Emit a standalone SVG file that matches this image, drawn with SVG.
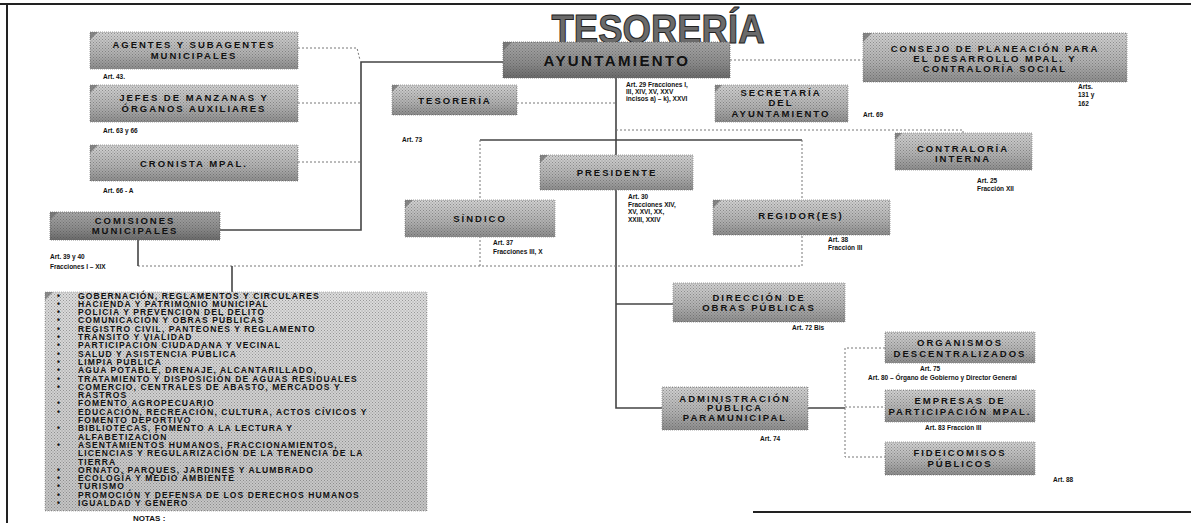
<svg xmlns="http://www.w3.org/2000/svg" width="1191" height="523" viewBox="0 0 1191 523">
<style>
.box{fill:url(#g1);stroke:#8a8a8a;stroke-width:0.8;stroke-dasharray:1 1}
.dk{fill:url(#g2);stroke:#6a6a6a;stroke-width:0.8;stroke-dasharray:1 1}
.lb{fill:url(#g3);stroke:#aaa;stroke-width:0.8;stroke-dasharray:1 1}
.tex{fill:url(#dots)}
.fold{fill:#6a6a6a;opacity:0.7}
.t{font-family:"Liberation Sans",Arial,sans-serif;font-weight:bold;font-size:9.5px;letter-spacing:2px;text-anchor:middle;fill:#111}
.a{font-family:"Liberation Sans",Arial,sans-serif;font-weight:bold;font-size:6.5px;fill:#111}
.li{font-family:"Liberation Sans",Arial,sans-serif;font-weight:bold;font-size:8.5px;letter-spacing:1.1px;fill:#111}
.solid{stroke:#444;stroke-width:1.6;fill:none}
.dot{stroke:#777;stroke-width:1;stroke-dasharray:2 2;fill:none}
.border{stroke:#222;stroke-width:2;fill:none}
</style>
<defs>
<linearGradient id="g1" x1="0" y1="0" x2="0" y2="1"><stop offset="0" stop-color="#d2d2d2"/><stop offset="0.6" stop-color="#b0b0b0"/><stop offset="1" stop-color="#8c8c8c"/></linearGradient>
<linearGradient id="g2" x1="0" y1="0" x2="0" y2="1"><stop offset="0" stop-color="#a8a8a8"/><stop offset="0.6" stop-color="#8a8a8a"/><stop offset="1" stop-color="#6a6a6a"/></linearGradient>
<linearGradient id="g3" x1="0" y1="0" x2="0" y2="1"><stop offset="0" stop-color="#dcdcdc"/><stop offset="1" stop-color="#c4c4c4"/></linearGradient>
<pattern id="dots" width="3" height="3" patternUnits="userSpaceOnUse"><rect x="0" y="0" width="1" height="1" fill="#444" opacity="0.45"/><rect x="1.5" y="1.5" width="1" height="1" fill="#444" opacity="0.45"/></pattern>
</defs>
<rect width="1191" height="523" fill="#fff"/>
<g id="page-border">
<path class="border" d="M0,4 H1191"/>
<path class="border" d="M7,4 V523"/>
<path class="border" d="M753,512 H1191" stroke-width="1.5"/>
</g>
<text x="658" y="43" font-family="Liberation Sans,Arial,sans-serif" font-weight="bold" font-size="40" textLength="213" lengthAdjust="spacingAndGlyphs" text-anchor="middle" fill="#6a6a6a" stroke="#222" stroke-width="1">TESORERÍA</text>
<g id="connectors">
<path class="dot" d="M298,48 H357 L360,60"/>
<path class="dot" d="M298,103 H360"/>
<path class="dot" d="M298,162 H360"/>
<path class="solid" d="M220,230 H361 V62 H503"/>
<path class="solid" d="M616,78 V408 H662"/>
<path class="solid" d="M616,304 H673"/>
<path class="dot" d="M517,103 H616"/>
<path class="dot" d="M730,60 H863"/>
<path class="dot" d="M616,130 H963 V133"/>
<path class="solid" d="M480,140 H802" stroke-width="1.2"/>
<path class="dot" d="M480,140 V266"/>
<path class="dot" d="M802,140 V266"/>
<path class="dot" d="M138,266 H802"/>
<path class="solid" d="M138,240 V266" stroke-width="1.2"/>
<path class="solid" d="M232,266 V292" stroke-width="1.2"/>
<path class="solid" d="M808,408 H845" stroke-width="1.2"/>
<path class="dot" d="M885,348 H845 V457 H885"/>
<path class="dot" d="M845,407 H885"/>
</g>
<g id="agentes">
<rect class="box" x="90" y="32" width="208" height="37"/><rect class="tex" x="90" y="32" width="208" height="37"/><path class="fold" d="M90,32 h8 l-8,8 z"/>
<text class="t" x="194" y="48">AGENTES Y SUBAGENTES</text><text class="t" x="194" y="59">MUNICIPALES</text>
<text class="a" x="103" y="79">Art. 43.</text>
</g>
<g id="jefes">
<rect class="box" x="90" y="85" width="208" height="37"/><rect class="tex" x="90" y="85" width="208" height="37"/><path class="fold" d="M90,85 h8 l-8,8 z"/>
<text class="t" x="194" y="101">JEFES DE MANZANAS Y</text><text class="t" x="194" y="112">ÓRGANOS AUXILIARES</text>
<text class="a" x="103" y="133">Art. 63 y 66</text>
</g>
<g id="cronista">
<rect class="box" x="90" y="145" width="208" height="36"/><rect class="tex" x="90" y="145" width="208" height="36"/><path class="fold" d="M90,145 h8 l-8,8 z"/>
<text class="t" x="194" y="167">CRONISTA MPAL.</text>
<text class="a" x="103" y="193">Art. 66 - A</text>
</g>
<g id="ayuntamiento">
<rect class="dk" x="503" y="42" width="227" height="36"/><rect class="tex" x="503" y="42" width="227" height="36"/><path class="fold" d="M503,42 h9 l-9,9 z"/>
<text class="t" x="617" y="66" style="font-size:15px;letter-spacing:2.4px">AYUNTAMIENTO</text>
<text class="a" x="626" y="87">Art. 29 Fracciones I,</text>
<text class="a" x="626" y="94">III, XIV, XV, XXV</text>
<text class="a" x="626" y="101">incisos a) – k), XXVI</text>
</g>
<g id="tesoreria">
<rect class="box" x="392" y="85" width="125" height="30"/><rect class="tex" x="392" y="85" width="125" height="30"/><path class="fold" d="M392,85 h7 l-7,7 z"/>
<text class="t" x="455" y="104">TESORERÍA</text>
<text class="a" x="402" y="142">Art. 73</text>
</g>
<g id="secretaria">
<rect class="box" x="715" y="85" width="133" height="37"/><rect class="tex" x="715" y="85" width="133" height="37"/><path class="fold" d="M715,85 h7 l-7,7 z"/>
<text class="t" x="781" y="96">SECRETARÍA</text><text class="t" x="781" y="106">DEL</text><text class="t" x="781" y="117">AYUNTAMIENTO</text>
<text class="a" x="863" y="117">Art. 69</text>
</g>
<g id="consejo">
<rect class="box" x="863" y="33" width="264" height="49"/><rect class="tex" x="863" y="33" width="264" height="49"/><path class="fold" d="M863,33 h9 l-9,9 z"/>
<text class="t" x="995" y="52">CONSEJO DE PLANEACIÓN PARA</text><text class="t" x="995" y="62">EL DESARROLLO MPAL. Y</text><text class="t" x="995" y="72">CONTRALORÍA SOCIAL</text>
<text class="a" x="1078" y="89">Arts.</text><text class="a" x="1078" y="97">131 y</text><text class="a" x="1078" y="106">162</text>
</g>
<g id="contraloria">
<rect class="box" x="895" y="133" width="137" height="37"/><rect class="tex" x="895" y="133" width="137" height="37"/><path class="fold" d="M895,133 h7 l-7,7 z"/>
<text class="t" x="963" y="152">CONTRALORÍA</text><text class="t" x="963" y="162">INTERNA</text>
<text class="a" x="977" y="183">Art. 25</text><text class="a" x="977" y="191">Fracción XII</text>
</g>
<g id="presidente">
<rect class="box" x="540" y="155" width="153" height="35"/><rect class="tex" x="540" y="155" width="153" height="35"/><path class="fold" d="M540,155 h8 l-8,8 z"/>
<text class="t" x="617" y="176">PRESIDENTE</text>
<text class="a" x="628" y="199">Art. 30</text><text class="a" x="628" y="207">Fracciones XIV,</text><text class="a" x="628" y="214">XV, XVI, XX,</text><text class="a" x="628" y="222">XXIII, XXIV</text>
</g>
<g id="sindico">
<rect class="box" x="405" y="200" width="150" height="37"/><rect class="tex" x="405" y="200" width="150" height="37"/><path class="fold" d="M405,200 h8 l-8,8 z"/>
<text class="t" x="480" y="222">SÍNDICO</text>
<text class="a" x="493" y="245">Art. 37</text><text class="a" x="493" y="254">Fracciones III, X</text>
</g>
<g id="regidores">
<rect class="box" x="713" y="200" width="177" height="35"/><rect class="tex" x="713" y="200" width="177" height="35"/><path class="fold" d="M713,200 h8 l-8,8 z"/>
<text class="t" x="801" y="219">REGIDOR(ES)</text>
<text class="a" x="828" y="242">Art. 38</text><text class="a" x="828" y="250">Fracción III</text>
</g>
<g id="direccion-obras">
<rect class="box" x="673" y="283" width="172" height="39"/><rect class="tex" x="673" y="283" width="172" height="39"/>
<text class="t" x="759" y="301">DIRECCIÓN DE</text><text class="t" x="759" y="311">OBRAS PÚBLICAS</text>
<text class="a" x="792" y="330">Art. 72 Bis</text>
</g>
<g id="administracion">
<rect class="box" x="662" y="387" width="146" height="43"/><rect class="tex" x="662" y="387" width="146" height="43"/>
<text class="t" x="735" y="402">ADMINISTRACIÓN</text><text class="t" x="735" y="411">PÚBLICA</text><text class="t" x="735" y="421">PARAMUNICIPAL</text>
<text class="a" x="760" y="441">Art. 74</text>
</g>
<g id="organismos">
<rect class="box" x="885" y="332" width="150" height="31"/><rect class="tex" x="885" y="332" width="150" height="31"/>
<text class="t" x="960" y="346">ORGANISMOS</text><text class="t" x="960" y="357">DESCENTRALIZADOS</text>
<text class="a" x="920" y="371">Art. 75</text>
<text class="a" x="868" y="380">Art. 80 – Órgano de Gobierno y Director General</text>
</g>
<g id="empresas">
<rect class="box" x="885" y="390" width="150" height="32"/><rect class="tex" x="885" y="390" width="150" height="32"/>
<text class="t" x="960" y="404">EMPRESAS DE</text><text class="t" x="960" y="415">PARTICIPACIÓN MPAL.</text>
<text class="a" x="925" y="430">Art. 83 Fracción III</text>
</g>
<g id="fideicomisos">
<rect class="box" x="885" y="442" width="150" height="33"/><rect class="tex" x="885" y="442" width="150" height="33"/>
<text class="t" x="960" y="456">FIDEICOMISOS</text><text class="t" x="960" y="467">PÚBLICOS</text>
<text class="a" x="1053" y="482">Art. 88</text>
</g>
<g id="comisiones">
<rect class="dk" x="50" y="212" width="170" height="28"/><rect class="tex" x="50" y="212" width="170" height="28"/><path class="fold" d="M50,212 h8 l-8,8 z"/>
<text class="t" x="135" y="224">COMISIONES</text><text class="t" x="135" y="234">MUNICIPALES</text>
<text class="a" x="50" y="259">Art. 39 y 40</text><text class="a" x="50" y="269">Fracciones I – XIX</text>
</g>
<g id="lista-comisiones">
<rect class="lb" x="45" y="292" width="382" height="219"/><rect class="tex" x="45" y="292" width="382" height="219"/><path class="fold" d="M45,292 h8 l-8,8 z"/>
<g class="li">
<text x="57" y="298.5">•</text><text x="78" y="298.5">GOBERNACIÓN, REGLAMENTOS Y CIRCULARES</text>
<text x="57" y="306.8">•</text><text x="78" y="306.8">HACIENDA Y PATRIMONIO MUNICIPAL</text>
<text x="57" y="315.1">•</text><text x="78" y="315.1">POLICÍA Y PREVENCIÓN DEL DELITO</text>
<text x="57" y="323.4">•</text><text x="78" y="323.4">COMUNICACIÓN Y OBRAS PÚBLICAS</text>
<text x="57" y="331.7">•</text><text x="78" y="331.7">REGISTRO CIVIL, PANTEONES Y REGLAMENTO</text>
<text x="57" y="340">•</text><text x="78" y="340">TRÁNSITO Y VIALIDAD</text>
<text x="57" y="348.3">•</text><text x="78" y="348.3">PARTICIPACIÓN CIUDADANA Y VECINAL</text>
<text x="57" y="356.6">•</text><text x="78" y="356.6">SALUD Y ASISTENCIA PÚBLICA</text>
<text x="57" y="364.9">•</text><text x="78" y="364.9">LIMPIA PÚBLICA</text>
<text x="57" y="373.2">•</text><text x="78" y="373.2">AGUA POTABLE, DRENAJE, ALCANTARILLADO,</text>
<text x="57" y="381.5">•</text><text x="78" y="381.5">TRATAMIENTO Y DISPOSICIÓN DE AGUAS RESIDUALES</text>
<text x="57" y="389.8">•</text><text x="78" y="389.8">COMERCIO, CENTRALES DE ABASTO, MERCADOS Y</text>
<text x="78" y="398.1">RASTROS</text>
<text x="57" y="406.4">•</text><text x="78" y="406.4">FOMENTO AGROPECUARIO</text>
<text x="57" y="414.7">•</text><text x="78" y="414.7">EDUCACIÓN, RECREACIÓN, CULTURA, ACTOS CÍVICOS Y</text>
<text x="78" y="423">FOMENTO DEPORTIVO</text>
<text x="57" y="431.3">•</text><text x="78" y="431.3">BIBLIOTECAS, FOMENTO A LA LECTURA Y</text>
<text x="78" y="439.6">ALFABETIZACIÓN</text>
<text x="57" y="447.9">•</text><text x="78" y="447.9">ASENTAMIENTOS HUMANOS, FRACCIONAMIENTOS,</text>
<text x="78" y="456.2">LICENCIAS Y REGULARIZACIÓN DE LA TENENCIA DE LA</text>
<text x="78" y="464.5">TIERRA</text>
<text x="57" y="472.8">•</text><text x="78" y="472.8">ORNATO, PARQUES, JARDINES Y ALUMBRADO</text>
<text x="57" y="481.1">•</text><text x="78" y="481.1">ECOLOGÍA Y MEDIO AMBIENTE</text>
<text x="57" y="489.4">•</text><text x="78" y="489.4">TURISMO</text>
<text x="57" y="497.7">•</text><text x="78" y="497.7">PROMOCIÓN Y DEFENSA DE LOS DERECHOS HUMANOS</text>
<text x="57" y="506">•</text><text x="78" y="506">IGUALDAD Y GÉNERO</text>
</g>
</g>
<text class="a" x="133" y="521" style="font-size:8px">NOTAS :</text>
</svg>
